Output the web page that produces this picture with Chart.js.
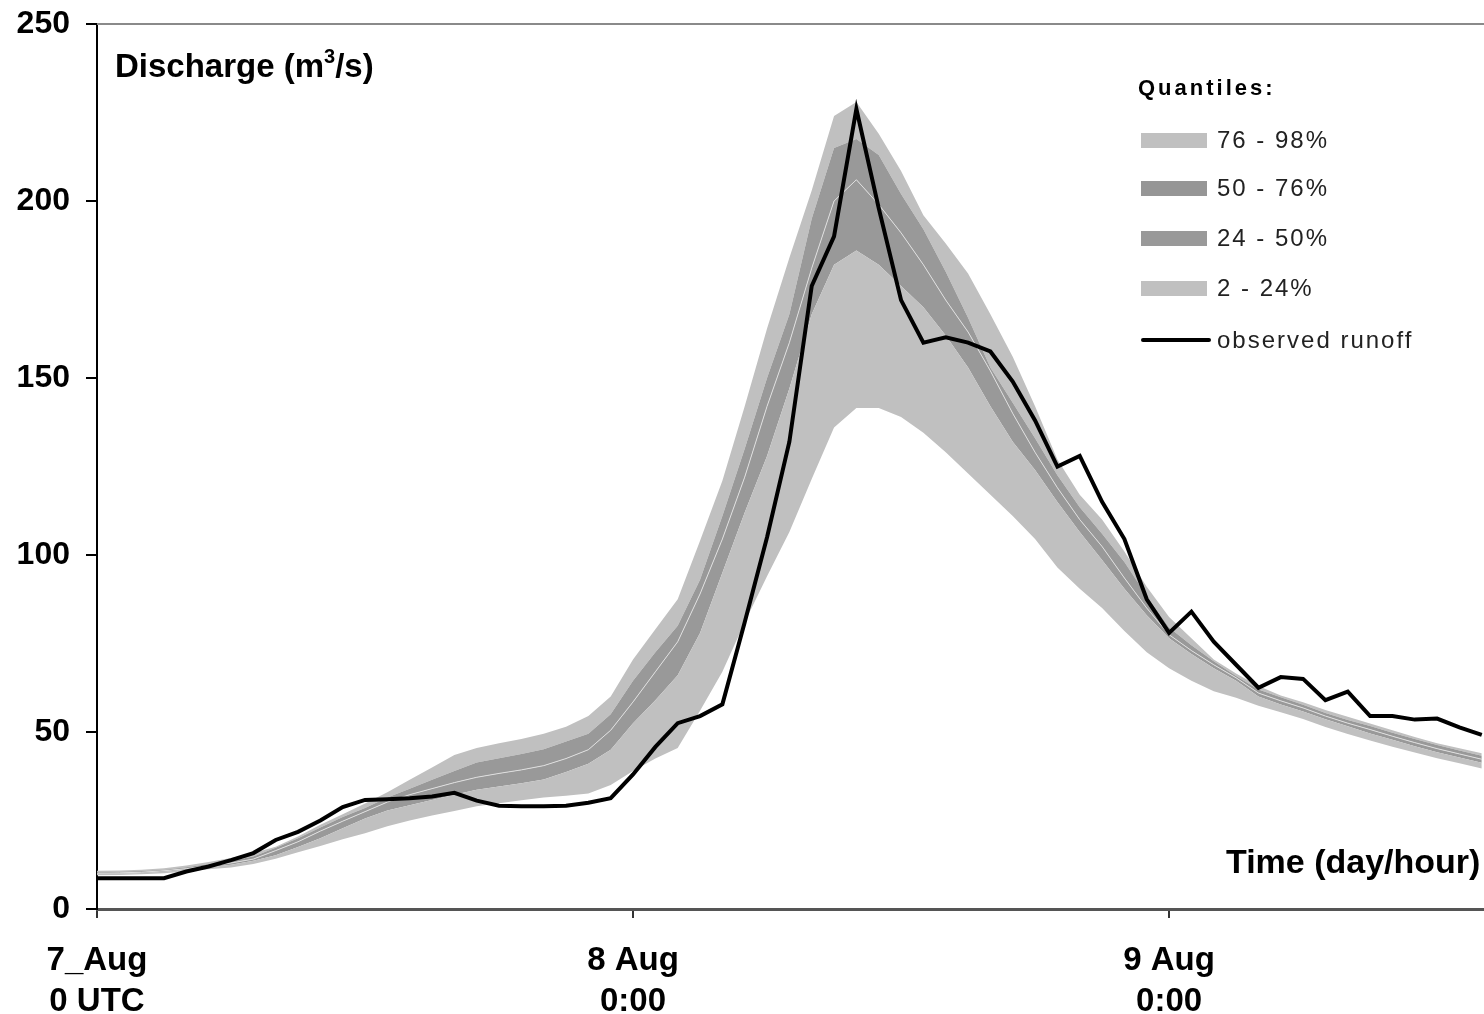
<!DOCTYPE html>
<html>
<head>
<meta charset="utf-8">
<script src="https://cdn.jsdelivr.net/npm/chart.js@4/dist/chart.umd.min.js"></script>
<style>
body{margin:0;background:#fff;overflow:hidden;}
#wrap{position:relative;width:1484px;height:1014px;}
canvas{position:absolute;left:0;top:0;}
.lbl{position:absolute;font-family:'Liberation Sans',Arial,sans-serif;font-weight:bold;color:#000;white-space:nowrap;}
.lbl sup{font-size:20px;vertical-align:14px;line-height:0;}
.leg{position:absolute;font-family:'Liberation Sans',Arial,sans-serif;color:#222;white-space:nowrap;font-size:24px;letter-spacing:2px;line-height:24px;}
.sw{position:absolute;left:1141px;width:66px;height:15px;}
</style>
</head>
<body>
<div id="wrap">
<canvas id="c" width="1484" height="1014"></canvas>
<div class="lbl" style="left:115px;top:47px;font-size:33px;">Discharge (m<sup>3</sup>/s)</div>
<div class="lbl" style="left:1226px;top:842px;font-size:34px;">Time (day/hour)</div>
<div class="leg" style="left:1138px;top:76px;font-weight:bold;font-size:22px;letter-spacing:3px;color:#000;">Quantiles:</div>
<div class="sw" style="top:133px;background:#c0c0c0;"></div>
<div class="leg" style="left:1217px;top:128px;">76 - 98%</div>
<div class="sw" style="top:181px;background:#969696;"></div>
<div class="leg" style="left:1217px;top:176px;">50 - 76%</div>
<div class="sw" style="top:231px;background:#999999;"></div>
<div class="leg" style="left:1217px;top:226px;">24 - 50%</div>
<div class="sw" style="top:281px;background:#c0c0c0;"></div>
<div class="leg" style="left:1217px;top:276px;">2 - 24%</div>
<div class="sw" style="top:338px;height:4px;background:#000;width:70px;border-radius:2px;"></div>
<div class="leg" style="left:1217px;top:328px;">observed runoff</div>
</div>
<script>
// hours since 7 Aug 0 UTC
let hours=[];
for(let h=0;h<=62;h++)hours.push(h);

let tickHours=[0,24,48];
let tickLabels=[["7_Aug","0 UTC"],["8 Aug","0:00"],["9 Aug","0:00"]];

let observed=[8.7,8.7,8.7,8.7,10.6,12,13.8,15.8,19.5,21.8,
25,28.8,30.8,31,31.3,31.8,32.8,30.6,29.2,29,
29,29.2,30,31.3,38,45.8,52.5,54.5,57.8,81,
105,132,176,190,226,198,172,160,161.5,160,
157.5,149,138,125,128,115,104.5,87.5,78,84,
75.5,69,62.5,65.5,65,59,61.4,54.5,54.5,53.5,
53.8,51.3,49.2];

let q98=[10.8,10.9,11.1,11.5,12.3,13.3,14.4,15.8,17.6,20.5,
23.8,26.8,29.8,33,36.5,40,43.5,45.5,46.8,48,
49.5,51.5,54.5,60,70.5,79,87.5,104,121,142,
164,184,203,224,228,219,208.5,196,188,179.5,
168,156,142,127,117,110,101,91,82.5,76.5,
70.5,66.5,63,60.3,58.4,56.2,54.3,52.4,50.5,48.6,
46.8,45.4,44];

let q76=[10.4,10.5,10.7,11.1,11.8,12.7,13.6,14.8,17.3,20,
23,26,28.5,31.5,34,36.5,39,41.4,42.6,43.8,
45.1,47.3,49.5,55,64.5,72.5,80,93,111,130,
150,168,195,215,217.5,213,202,192,180,167,
153,143,133,122.5,113.5,106,98,88.5,79.5,74.5,
70,65.8,62,59.8,57.7,55.4,53.4,51.7,49.8,48,
46.3,44.8,43.3];

let q50=[10.1,10.2,10.4,10.8,11.4,12.2,13,14.1,16.5,19,
22,24.8,27.5,30.2,32.3,34,35.7,37.2,38.3,39.3,
40.5,42.5,45,50.5,58.5,67,75.5,89,104.5,122,
142,160,181,200,206,199,191,182,172,163,
152,140,129,119,110,102.4,93.5,85,77.5,73,
69,65.3,61,58.8,56.8,54.5,52.5,50.7,48.8,47,
45.3,43.8,42.3];

let q24=[9.9,10,10.2,10.5,11.1,11.8,12.5,13.6,15.2,17.5,
20,22.8,25.6,27.8,29.3,30.8,32.3,33.7,34.6,35.5,
36.6,38.7,41,45,52.5,59,66,78,95,112,
128,147,168,182,186,182,176,170,162,153,
142,132,124,115,106.5,98.6,90.5,83,76.5,72,
68,64.5,60,57.8,55.8,53.6,51.6,49.6,47.8,46,
44.3,42.8,41.3];

let q2=[9.5,9.6,9.8,10.1,10.6,11.2,11.7,12.7,14.2,16,
17.8,19.7,21.4,23.4,25,26.4,27.7,29,29.9,30.7,
31.5,32,32.6,35,39,42.5,45.5,56,67,81,
94,106.5,121.5,136,141.5,141.5,139,134.5,129,123,
117,111,104.5,96.5,90.5,85,78.5,72.5,68,64.5,
61.5,59.7,57.4,55.6,53.7,51.4,49.4,47.6,45.8,44.2,
42.6,41.2,39.7];

function pts(arr){
return hours.map((h,i)=>({x:h,y:arr[i]}));
}

let light="#c0c0c0";
let dark="#999999";
let bold="'Liberation Sans',Arial,sans-serif";

let frame={
id:"frame",
afterDraw(chart){
let ctx=chart.ctx,a=chart.chartArea;
ctx.save();
ctx.strokeStyle="#8a8a8a";
ctx.lineWidth=2;
ctx.beginPath();
ctx.moveTo(a.left,a.top);
ctx.lineTo(a.right,a.top);
ctx.stroke();
ctx.restore();
}
};

new Chart(document.getElementById("c"),{
type:"line",
data:{
datasets:[
{label:"observed runoff",data:pts(observed),borderColor:"#000",borderWidth:4,fill:false},
{label:"2%",data:pts(q2),borderWidth:0,borderColor:"rgba(0,0,0,0)",fill:false},
{label:"2 - 24%",data:pts(q24),borderWidth:0,borderColor:"rgba(0,0,0,0)",backgroundColor:light,fill:1},
{label:"24 - 50%",data:pts(q50),borderWidth:1,borderColor:"#dedede",backgroundColor:dark,fill:2},
{label:"50 - 76%",data:pts(q76),borderWidth:0,borderColor:"rgba(0,0,0,0)",backgroundColor:dark,fill:3},
{label:"76 - 98%",data:pts(q98),borderWidth:0,borderColor:"rgba(0,0,0,0)",backgroundColor:light,fill:4}
]
},
options:{
responsive:false,
animation:false,
events:[],
layout:{padding:{top:24,left:0,right:0,bottom:0}},
elements:{point:{radius:0},line:{tension:0}},
plugins:{legend:{display:false},tooltip:{enabled:false}},
scales:{
x:{
type:"linear",min:0,max:62.1,
afterBuildTicks(s){s.ticks=tickHours.map(v=>({value:v}));},
afterFit(s){s.height=105;s.paddingLeft=0;s.paddingRight=0;},
grid:{display:true,drawOnChartArea:false,drawTicks:true,tickLength:9,color:"#333",lineWidth:2},
border:{display:true,color:"#555",width:3},
ticks:{
autoSkip:false,maxRotation:0,padding:22,color:"#000",
font:{family:bold,size:33,weight:"bold",lineHeight:1.25},
callback:(v,i)=>tickLabels[i]
}
},
y:{
min:0,max:250,
afterFit(s){s.width=97;s.paddingTop=0;s.paddingBottom=0;},
grid:{display:true,drawOnChartArea:false,drawTicks:true,tickLength:11,color:"#000",lineWidth:2},
border:{display:true,color:"#000",width:2},
ticks:{stepSize:50,padding:16,color:"#000",font:{family:bold,size:32,weight:"bold"}}
}
}
},
plugins:[frame]
});
</script>
</body>
</html>
